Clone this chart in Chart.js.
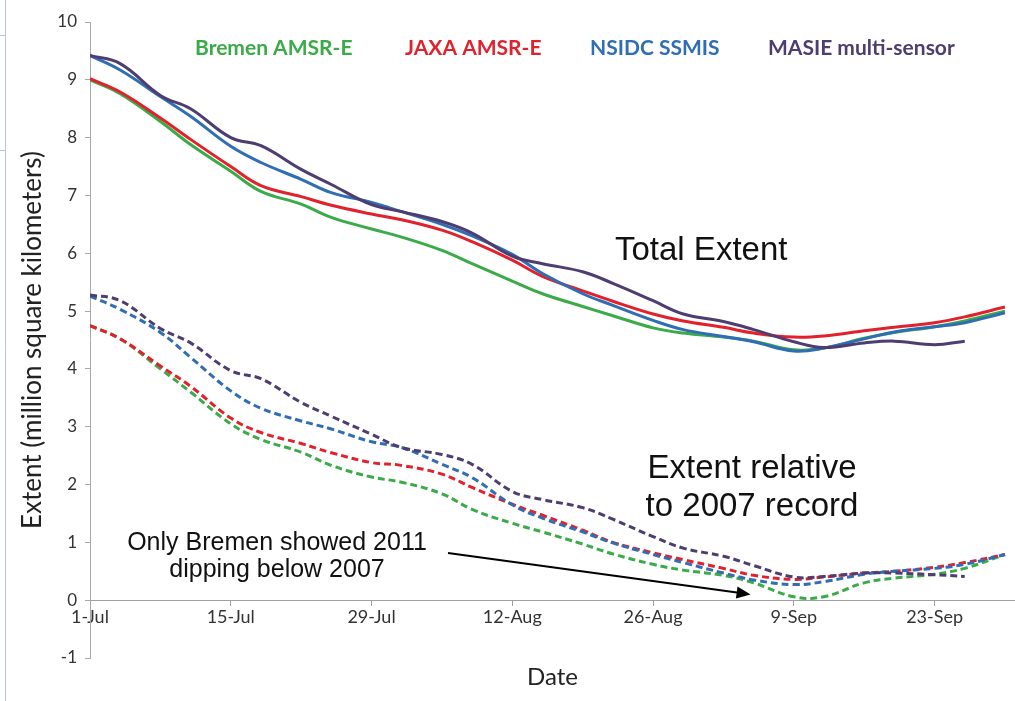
<!DOCTYPE html>
<html>
<head>
<meta charset="utf-8">
<script src="https://cdn.jsdelivr.net/npm/chart.js@4"></script>
<style>
  html, body { margin: 0; padding: 0; background: #fff; }
  #wrap { width: 1015px; height: 701px; position: relative; }
</style>
</head>
<body>
<div id="wrap"><canvas id="iceChart" width="1015" height="701"></canvas></div>
<script>
const days = [0, 3, 7, 10, 14, 17, 21, 24, 28, 31, 35, 38, 42, 45, 49, 52, 56, 59, 63, 66, 70, 73, 77, 80, 84, 87, 91];
const tickLabels = ["1-Jul", "15-Jul", "29-Jul", "12-Aug", "26-Aug", "9-Sep", "23-Sep"];

// total extent (million sq km)
const bremenTotal = [9.0, 8.76, 8.28, 7.88, 7.42, 7.07, 6.85, 6.62, 6.42, 6.28, 6.05, 5.82, 5.52, 5.3, 5.08, 4.92, 4.71, 4.62, 4.55, 4.48, 4.33, 4.36, 4.53, 4.63, 4.73, 4.83, 5.0];
const jaxaTotal = [9.02, 8.79, 8.34, 7.97, 7.5, 7.17, 6.98, 6.83, 6.68, 6.58, 6.4, 6.2, 5.88, 5.6, 5.35, 5.17, 4.95, 4.83, 4.72, 4.62, 4.55, 4.57, 4.66, 4.72, 4.8, 4.9, 5.07];
const nsidcTotal = [9.42, 9.17, 8.71, 8.37, 7.85, 7.57, 7.28, 7.05, 6.88, 6.72, 6.5, 6.3, 5.98, 5.65, 5.3, 5.1, 4.84, 4.68, 4.56, 4.47, 4.31, 4.36, 4.52, 4.64, 4.73, 4.8, 4.97];
const masieTotal = [9.42, 9.28, 8.73, 8.5, 8.0, 7.86, 7.45, 7.19, 6.84, 6.72, 6.55, 6.35, 5.95, 5.82, 5.68, 5.48, 5.18, 4.95, 4.82, 4.68, 4.47, 4.37, 4.45, 4.48, 4.42, 4.48, null];

// extent relative to 2007 record
const bremenRel = [4.75, 4.52, 4.0, 3.6, 3.05, 2.78, 2.56, 2.33, 2.13, 2.04, 1.84, 1.57, 1.33, 1.18, 0.97, 0.8, 0.62, 0.52, 0.43, 0.3, 0.06, 0.06, 0.3, 0.38, 0.45, 0.55, 0.79];
const jaxaRel = [4.75, 4.52, 4.05, 3.7, 3.15, 2.9, 2.71, 2.55, 2.38, 2.33, 2.18, 1.95, 1.66, 1.47, 1.21, 1.0, 0.82, 0.7, 0.55, 0.43, 0.36, 0.4, 0.47, 0.5, 0.57, 0.65, 0.79];
const nsidcRel = [5.26, 5.03, 4.63, 4.2, 3.62, 3.32, 3.1, 2.96, 2.74, 2.64, 2.35, 2.12, 1.65, 1.42, 1.18, 0.99, 0.79, 0.65, 0.47, 0.35, 0.27, 0.32, 0.45, 0.5, 0.55, 0.62, 0.79];
const masieRel = [5.28, 5.18, 4.7, 4.45, 3.97, 3.83, 3.42, 3.18, 2.87, 2.64, 2.52, 2.35, 1.88, 1.74, 1.6, 1.4, 1.1, 0.9, 0.76, 0.6, 0.4, 0.41, 0.47, 0.47, 0.44, 0.41, null];

const GREEN = "#3aab48";
const RED = "#e1222c";
const BLUE = "#2f6db4";
const PURPLE = "#4d3d70";

function pts(values) {
  return days.map((d, i) => ({ x: d, y: values[i] }));
}

function series(label, values, color, dashed) {
  return {
    label: label,
    data: pts(values),
    borderColor: color,
    borderWidth: 3,
    borderDash: dashed ? [7, 4] : [],
    pointRadius: 0,
    tension: 0.4,
    fill: false
  };
}

// free-standing texts, arrow and the window frame at the left edge
const notes = {
  id: "notes",
  beforeDraw(chart) {
    const ctx = chart.ctx;
    ctx.save();
    ctx.strokeStyle = "#b8c4d0";
    ctx.lineWidth = 1;
    ctx.beginPath();
    ctx.moveTo(5.5, 0); ctx.lineTo(5.5, 701);
    ctx.moveTo(0, 35.5); ctx.lineTo(5, 35.5);
    ctx.moveTo(0, 150.5); ctx.lineTo(5, 150.5);
    ctx.stroke();
    ctx.restore();
  },
  afterDatasetsDraw(chart) {
    const { ctx, chartArea, scales: { x, y } } = chart;
    ctx.save();

    // legend
    ctx.font = "bold 21px Lato";
    ctx.textBaseline = "middle";
    ctx.textAlign = "left";
    const legend = [["Bremen AMSR-E", GREEN, 195], ["JAXA AMSR-E", RED, 405], ["NSIDC SSMIS", BLUE, 590], ["MASIE multi-sensor", PURPLE, 768]];
    legend.forEach(([t, c, lx]) => { ctx.fillStyle = c; ctx.fillText(t, lx, 48); });

    ctx.fillStyle = "#111";
    ctx.font = "33px 'Liberation Sans'";
    ctx.fillText("Total Extent", 615, 251);
    ctx.textAlign = "center";
    ctx.fillText("Extent relative", 752, 469);
    ctx.fillText("to 2007 record", 752, 507);

    ctx.font = "25px 'Liberation Sans'";
    ctx.fillText("Only Bremen showed 2011", 277, 543);
    ctx.fillText("dipping below 2007", 277, 570);

    // arrow to the Bremen dip
    const tx = x.getPixelForValue(65.7), ty = y.getPixelForValue(0.1);
    const sx = 448, sy = 553;
    const ang = Math.atan2(ty - sy, tx - sx);
    ctx.strokeStyle = "#000";
    ctx.lineWidth = 2;
    ctx.beginPath();
    ctx.moveTo(sx, sy);
    ctx.lineTo(tx - 10 * Math.cos(ang), ty - 10 * Math.sin(ang));
    ctx.stroke();
    ctx.fillStyle = "#000";
    ctx.beginPath();
    ctx.moveTo(tx, ty);
    ctx.lineTo(tx - 14 * Math.cos(ang) + 6 * Math.sin(ang), ty - 14 * Math.sin(ang) - 6 * Math.cos(ang));
    ctx.lineTo(tx - 14 * Math.cos(ang) - 6 * Math.sin(ang), ty - 14 * Math.sin(ang) + 6 * Math.cos(ang));
    ctx.closePath();
    ctx.fill();

    // x axis title
    ctx.fillStyle = "#222";
    ctx.font = "24px Lato";
    ctx.fillText("Date", (chartArea.left + chartArea.right) / 2, 677);
    ctx.restore();
  }
};

new Chart(document.getElementById("iceChart").getContext("2d"), {
  type: "line",
  data: {
    datasets: [
      series("MASIE multi-sensor", masieTotal, PURPLE, false),
      series("NSIDC SSMIS", nsidcTotal, BLUE, false),
      series("JAXA AMSR-E", jaxaTotal, RED, false),
      series("Bremen AMSR-E", bremenTotal, GREEN, false),
      series("MASIE relative", masieRel, PURPLE, true),
      series("NSIDC relative", nsidcRel, BLUE, true),
      series("JAXA relative", jaxaRel, RED, true),
      series("Bremen relative", bremenRel, GREEN, true)
    ]
  },
  options: {
    responsive: false,
    animation: false,
    layout: { padding: { top: 22, right: 0, bottom: 43, left: 0 } },
    plugins: {
      legend: { display: false },
      tooltip: { enabled: false }
    },
    scales: {
      x: {
        type: "linear",
        position: { y: 0 },
        min: 0,
        max: 92,
        afterFit: (s) => { s.height = 28; },
        grid: { drawOnChartArea: false, tickLength: 5, color: "#a0a0a0" },
        border: { color: "#a0a0a0" },
        ticks: {
          stepSize: 14,
          autoSkip: false,
          maxRotation: 0,
          padding: 1,
          color: "#333",
          font: { family: "Lato", size: 18 },
          callback: (v) => (v % 14 === 0 ? tickLabels[v / 14] : null)
        }
      },
      y: {
        min: -1,
        max: 10,
        afterFit: (s) => { s.width = 90; },
        grid: { drawOnChartArea: false, tickLength: 5, color: "#a8a8a8" },
        border: { color: "#a8a8a8" },
        ticks: { stepSize: 1, padding: 8, color: "#333", font: { family: "Lato", size: 17 } },
        title: {
          display: true,
          text: "Extent (million square kilometers)",
          color: "#222",
          font: { family: "Lato", size: 26 },
          padding: { top: 17, bottom: 0 }
        }
      }
    }
  },
  plugins: [notes]
});
</script>
</body>
</html>
